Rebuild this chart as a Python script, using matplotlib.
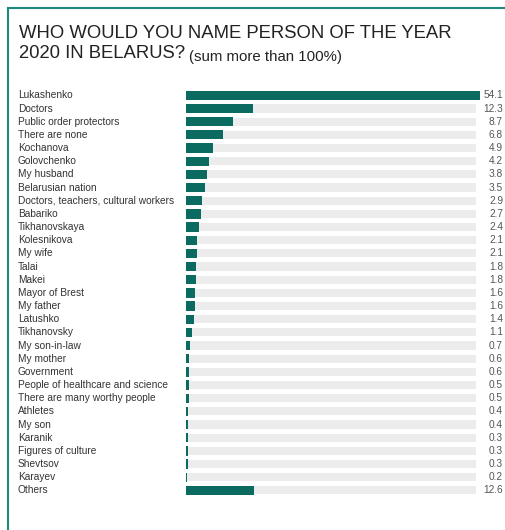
import matplotlib
matplotlib.use("Agg")
import matplotlib.pyplot as plt
from matplotlib.lines import Line2D
from matplotlib.transforms import blended_transform_factory

plt.rcParams['font.family'] = ['Liberation Sans', 'DejaVu Sans']

names = ["Lukashenko", "Doctors", "Public order protectors", "There are none",
         "Kochanova", "Golovchenko", "My husband", "Belarusian nation",
         "Doctors, teachers, cultural workers", "Babariko", "Tikhanovskaya",
         "Kolesnikova", "My wife", "Talai", "Makei", "Mayor of Brest",
         "My father", "Latushko", "Tikhanovsky", "My son-in-law", "My mother",
         "Government", "People of healthcare and science",
         "There are many worthy people", "Athletes", "My son", "Karanik",
         "Figures of culture", "Shevtsov", "Karayev", "Others"]
values = [54.1, 12.3, 8.7, 6.8, 4.9, 4.2, 3.8, 3.5, 2.9, 2.7, 2.4, 2.1, 2.1,
          1.8, 1.8, 1.6, 1.6, 1.4, 1.1, 0.7, 0.6, 0.6, 0.5, 0.5, 0.4, 0.4,
          0.3, 0.3, 0.3, 0.2, 12.6]

teal = "#0b6b60"

fig = plt.figure(figsize=(5.06, 5.30), dpi=100)
ax = fig.add_axes([186 / 506, 1 - 497 / 530, 294 / 506, 408.2 / 530])

pos = list(range(len(names)))
# light grey track behind each bar
ax.barh(pos, [max(values) * 0.985] * len(pos), height=0.62, color="#ececec")
ax.barh(pos, values, height=0.7, color=teal)
ax.set_ylim(len(names) - 0.5, -0.5)
ax.set_xlim(0, max(values))
ax.axis("off")

tr = blended_transform_factory(fig.transFigure, ax.transData)
for i, (n, v) in enumerate(zip(names, values)):
    ax.text(18 / 506, i, n, transform=tr, ha="left", va="center",
            fontsize=7.3, color="#333333")
    ax.text(503 / 506, i, f"{v:.1f}", transform=tr, ha="right", va="center",
            fontsize=7.3, color="#555555")

# title
fig.text(19 / 506, 1 - 34 / 530, "WHO WOULD YOU NAME PERSON OF THE YEAR",
         fontsize=13.3, color="#222222", va="center")
t = fig.text(19 / 506, 1 - 53.5 / 530, "2020 IN BELARUS?",
             fontsize=13.3, color="#222222", va="center")
fig.canvas.draw()
fig.text(0, 0, "(sum more than 100%)", fontsize=10.8, color="#222222",
         va="baseline",
         transform=blended_transform_factory(
             fig.transFigure, fig.transFigure))
sub = fig.texts[-1]
bb = t.get_window_extent()
sub.set_position(((bb.x1 + 4) / fig.bbox.width, (bb.y0 + 1) / fig.bbox.height))

# frame lines (top and left)
fig.add_artist(Line2D([8 / 506, 1], [1 - 8 / 530, 1 - 8 / 530], color="#1f8a7c", lw=1.5))
fig.add_artist(Line2D([8 / 506, 8 / 506], [0, 1 - 8 / 530], color="#1f8a7c", lw=1.5))

fig.savefig("out.png", dpi=100, facecolor="white")
